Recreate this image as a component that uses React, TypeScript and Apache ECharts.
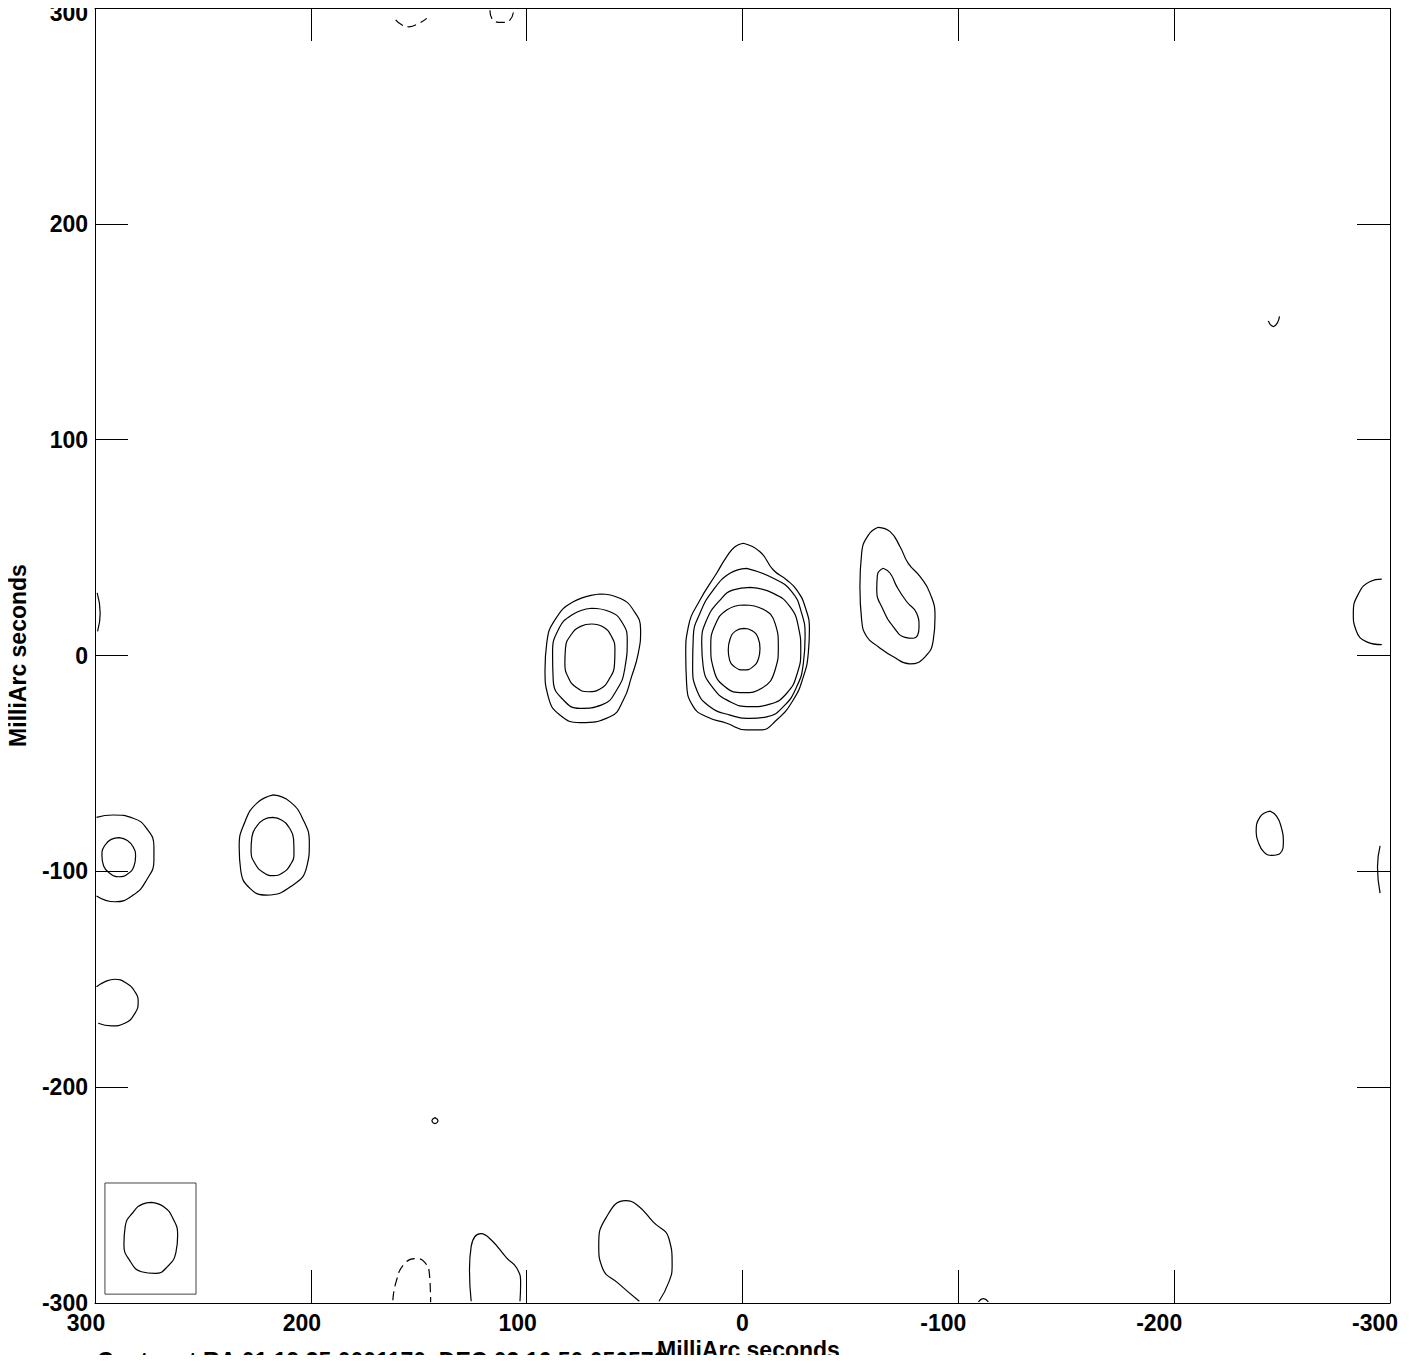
import React, { useEffect, useRef } from "react";
import * as echarts from "echarts";

type Pt = [number, number];

// Axis settings (milliarcseconds)
const axisMin = -300;
const axisMax = 300;
const axisStep = 100;
const axisTitle = "MilliArc seconds";
const footerText = "Center at RA 01 19 35.0001170  DEC 03 16 50.056573";

// Central component (5 nested contours)
const core1: Pt[] = [[-0.7, 12.6], [-4.5, 11.5], [-7.2, 8.2], [-8.1, 3.3], [-7.4, -1.5], [-4.5, -5.5], [-0.7, -6.7], [3.3, -5.5], [6.0, -2.0], [6.6, 2.5], [5.8, 7.5], [3.3, 11.3]];
const core2: Pt[] = [[-0.8, 23.4], [-9.6, 21.4], [-15.1, 14.9], [-16.6, 4.1], [-15.1, -6.7], [-8.9, -15.2], [-0.4, -17.2], [8.1, -14.5], [13.5, -5.9], [14.7, 4.1], [12.7, 14.1], [7.3, 21.1]];
const core3: Pt[] = [[-3.5, 31.6], [-14.3, 28.8], [-22.0, 22.6], [-25.9, 13.3], [-27.0, 2.5], [-25.4, -8.2], [-20.5, -17.5], [-12.7, -22.5], [-3.5, -23.7], [5.8, -21.4], [13.5, -15.2], [18.2, -5.2], [18.9, 5.7], [16.6, 16.5], [10.4, 25.7], [4.3, 30.4]];
const core4: Pt[] = [[-1.9, 40.4], [-14.3, 35.8], [-22.8, 29.6], [-27.4, 19.6], [-29.0, 8.7], [-28.2, -3.6], [-25.1, -14.5], [-18.9, -23.7], [-11.2, -28.4], [-3.5, -29.1], [5.8, -27.6], [15.1, -23.7], [21.2, -16.0], [23.1, -5.2], [22.8, 8.7], [19.7, 19.6], [13.5, 30.4], [5.8, 38.1]];
const core5: Pt[] = [[-0.4, 52.0], [-8.1, 48.1], [-14.3, 39.6], [-20.5, 35.0], [-25.1, 30.4], [-29.0, 22.6], [-31.0, 11.8], [-30.5, 1.2], [-28.2, -9.8], [-23.5, -20.6], [-15.8, -29.9], [-8.1, -34.5], [-1.9, -34.5], [7.3, -31.4], [16.6, -28.4], [22.8, -23.7], [25.9, -12.9], [26.3, 1.0], [25.1, 13.3], [19.7, 25.7], [12.0, 38.1], [7.3, 45.8], [3.5, 50.4]];

// Eastern component (3 contours)
const east1: Pt[] = [[69.9, 14.6], [64.5, 13.2], [60.8, 9.0], [59.1, 3.0], [59.3, -4.0], [61.5, -10.5], [66.0, -15.5], [71.5, -16.8], [77.0, -14.8], [80.8, -10.0], [82.3, -3.5], [82.0, 3.5], [79.5, 9.5], [75.0, 13.5]];
const east2: Pt[] = [[69.9, 21.9], [61.4, 20.3], [56.0, 15.7], [53.4, 7.2], [54.4, -5.2], [58.3, -16.0], [65.2, -22.9], [75.3, -24.5], [83.0, -20.6], [87.7, -11.4], [88.0, 1.0], [85.4, 11.8], [79.1, 18.8]];
const east3: Pt[] = [[66.0, 28.5], [56.8, 26.5], [50.6, 21.1], [47.2, 11.8], [48.3, 1.0], [51.4, -9.8], [55.2, -20.6], [61.4, -28.4], [75.3, -31.1], [84.6, -27.6], [90.0, -19.1], [91.5, -6.7], [90.7, 5.7], [86.9, 16.5], [78.4, 24.9]];

// Western component (2 contours)
const west1: Pt[] = [[-65.2, 40.4], [-68.4, 38.1], [-71.5, 31.9], [-76.1, 24.9], [-80.7, 19.6], [-81.8, 13.3], [-79.1, 8.0], [-75.3, 8.4], [-69.9, 13.3], [-65.2, 21.1], [-62.2, 30.4], [-62.5, 37.3]];
const west2: Pt[] = [[-62.9, 59.4], [-68.4, 57.4], [-73.0, 50.4], [-76.8, 42.7], [-82.3, 36.5], [-86.9, 28.8], [-89.2, 18.0], [-88.4, 7.2], [-84.6, -0.6], [-77.6, -3.9], [-69.9, -0.6], [-62.9, 4.1], [-57.6, 8.7], [-55.2, 16.5], [-54.4, 31.9], [-55.2, 47.4], [-58.3, 55.8]];

// Source near (215, -90)
const src215a: Pt[] = [[217.7, -75.0], [213.6, -76.2], [210.0, -79.8], [208.0, -85.0], [207.8, -91.7], [209.5, -97.0], [213.2, -100.8], [217.4, -102.0], [222.0, -100.5], [225.8, -96.5], [227.7, -90.5], [227.3, -84.0], [225.0, -79.0], [221.8, -76.0]];
const src215b: Pt[] = [[217.4, -64.6], [209.7, -67.7], [203.5, -76.2], [200.7, -87.0], [201.9, -97.9], [208.2, -106.3], [220.5, -111.0], [228.2, -107.9], [232.5, -99.4], [233.2, -88.6], [230.5, -77.0], [225.1, -68.5]];

// Left-edge features
const edgeL95a: Pt[] = [[288.8, -84.4], [285.0, -85.7], [282.3, -88.7], [281.2, -93.0], [282.0, -97.8], [285.0, -101.3], [289.0, -102.5], [293.0, -101.0], [296.0, -97.5], [296.8, -92.5], [295.5, -88.0], [292.5, -85.2]];
const edgeL95b: Pt[] = [[299.3, -75.0], [291.6, -73.9], [282.3, -75.4], [276.1, -80.1], [272.7, -88.6], [272.7, -94.8], [276.1, -104.0], [282.3, -111.0], [290.8, -114.1], [299.3, -111.4]];
const edgeL160: Pt[] = [[299.3, -153.5], [295.5, -151.2], [290.8, -150.0], [285.4, -151.9], [281.5, -155.8], [280.0, -160.4], [281.5, -165.8], [286.2, -170.4], [292.3, -171.6], [298.5, -170.4]];
const edgeL20: Pt[] = [[299.0, 29.0], [297.6, 19.6], [298.8, 11.2]];

// Right-side features
const hookR155: Pt[] = [[-243.6, 155.0], [-246.0, 152.4], [-247.8, 154.1], [-248.8, 157.1]];
const edgeR20: Pt[] = [[-296.2, 35.4], [-290.8, 34.3], [-285.4, 28.6], [-283.0, 19.6], [-284.3, 11.6], [-289.2, 6.3], [-296.2, 5.0]];
const ovalR85: Pt[] = [[-244.4, -72.1], [-247.5, -74.5], [-249.6, -79.5], [-250.6, -85.5], [-249.1, -91.7], [-245.3, -92.6], [-241.5, -91.0], [-238.8, -86.0], [-238.0, -81.9], [-239.8, -74.8]];
const edgeR100: Pt[] = [[-295.4, -88.2], [-294.2, -98.0], [-295.4, -110.1]];

// Top-edge (negative, dashed) features
const topNeg150: Pt[] = [[160.7, 294.5], [157.9, 292.2], [154.6, 291.3], [149.6, 293.1], [146.3, 295.2]];
const topNeg112: Pt[] = [[117.0, 299.0], [115.7, 294.5], [111.5, 293.3], [107.7, 294.5], [106.0, 299.0]];

// Bottom-edge features
const botNeg150: Pt[] = [[162.0, -298.7], [160.5, -290.2], [156.8, -282.0], [151.3, -279.4], [147.2, -281.2], [145.0, -287.2], [144.5, -299.7]];
const bot115: Pt[] = [[125.7, -299.2], [126.5, -284.6], [125.7, -273.8], [121.1, -267.9], [116.5, -270.7], [109.2, -279.2], [104.6, -283.8], [102.8, -290.8], [103.1, -299.2]];
const bot50: Pt[] = [[47.8, -299.2], [57.5, -290.9], [64.8, -284.0], [66.6, -273.2], [63.4, -260.8], [54.2, -252.6], [48.7, -254.7], [41.4, -262.4], [34.1, -270.1], [32.6, -282.5], [34.1, -290.2], [38.7, -299.2]];
const botR110: Pt[] = [[-109.3, -299.5], [-111.6, -298.0], [-113.9, -299.5]];
const dot142: Pt[] = [[142.5, -214.1], [141.1, -215.5], [142.5, -216.9], [143.9, -215.5]];

// Restoring beam and its box
const beamEllipse: Pt[] = [[274.0, -253.4], [268.0, -255.5], [263.8, -261.0], [261.7, -268.5], [262.5, -276.5], [266.3, -283.0], [272.0, -286.3], [278.5, -285.5], [283.8, -280.5], [286.6, -273.0], [286.0, -264.5], [282.0, -257.5], [278.0, -254.2]];
const beamBox: Pt[] = [[295.4, -244.4], [253.2, -244.4], [253.2, -295.9], [295.4, -295.9], [295.4, -244.4]];

const closedContours: Pt[][] = [core1, core2, core3, core4, core5, east1, east2, east3, west1, west2, src215a, src215b, edgeL95a, ovalR85, dot142, beamEllipse];
const openContours: Pt[][] = [edgeL95b, edgeL160, edgeL20, hookR155, edgeR20, edgeR100, bot115, bot50, botR110];
const dashedContours: Pt[][] = [topNeg150, topNeg112, botNeg150];

const FONT = '"Liberation Sans", Arial, Helvetica, sans-serif';
const labelBase = { fontFamily: FONT, fontWeight: "bold" as const, fontSize: 23, color: "#000" };

export default function App() {
  const ref = useRef<HTMLDivElement>(null);

  useEffect(() => {
    if (!ref.current) return;
    const chart = echarts.init(ref.current, undefined, { renderer: "svg" });

    const lineStyle = { color: "#000", width: 1.2 };
    const series: any[] = [];
    closedContours.forEach((pts) => {
      series.push({
        type: "line", data: [...pts, pts[0]], smooth: 0.5, symbol: "none", silent: true,
        lineStyle: { ...lineStyle }, z: 3,
      });
    });
    openContours.forEach((pts) => {
      series.push({
        type: "line", data: pts, smooth: 0.5, symbol: "none", silent: true,
        lineStyle: { ...lineStyle }, z: 3,
      });
    });
    dashedContours.forEach((pts) => {
      series.push({
        type: "line", data: pts, smooth: 0.5, symbol: "none", silent: true,
        lineStyle: { ...lineStyle, type: [9, 5] }, z: 3,
      });
    });
    series.push({
      type: "line", data: beamBox, smooth: false, symbol: "none", silent: true,
      lineStyle: { color: "#444", width: 1 }, z: 3,
    });

    const tickStyle = { show: true, inside: true, length: 33, lineStyle: { color: "#000", width: 1 } };
    const axisLine = { show: true, onZero: false, lineStyle: { color: "#000", width: 1 } };

    const xLabelFmt = (v: number) => {
      const s = String(v);
      return s.length === 1 ? `{a|${s}}` : s.length === 3 ? `{b|${s}}` : `{c|${s}}`;
    };

    chart.setOption({
      animation: false,
      backgroundColor: "#fff",
      grid: { left: 95, top: 8, width: 1295, height: 1295, show: false, containLabel: false, outerBoundsMode: "none" },
      xAxis: [
        {
          type: "value", min: axisMin, max: axisMax, interval: axisStep, inverse: true, position: "bottom",
          axisLine, axisTick: tickStyle, splitLine: { show: false },
          axisLabel: {
            ...labelBase, margin: 8, formatter: xLabelFmt,
            rich: {
              a: { ...labelBase },
              b: { ...labelBase, padding: [0, 18, 0, 0] },
              c: { ...labelBase, padding: [0, 30, 0, 0] },
            },
          },
          name: axisTitle, nameLocation: "middle", nameGap: 30,
          nameTextStyle: { ...labelBase, padding: [0, 0, 0, 12] },
        },
        {
          type: "value", min: axisMin, max: axisMax, interval: axisStep, inverse: true, position: "top",
          axisLine, axisTick: tickStyle, splitLine: { show: false }, axisLabel: { show: false },
        },
      ],
      yAxis: [
        {
          type: "value", min: axisMin, max: axisMax, interval: axisStep, position: "left",
          axisLine, axisTick: tickStyle, splitLine: { show: false },
          axisLabel: {
            ...labelBase, margin: 7,
            formatter: (v: number) => (v === axisMax ? "" : String(v)),
          },
          name: axisTitle, nameLocation: "middle", nameGap: 66, nameRotate: 90,
          nameTextStyle: { ...labelBase },
        },
        {
          type: "value", min: axisMin, max: axisMax, interval: axisStep, position: "right",
          axisLine, axisTick: tickStyle, splitLine: { show: false }, axisLabel: { show: false },
        },
        {
          type: "value", min: axisMin, max: axisMax, interval: axisStep, position: "left",
          axisLine: { show: false }, axisTick: { show: false }, splitLine: { show: false },
          axisLabel: {
            ...labelBase, margin: 7, verticalAlign: "top", padding: [-7, 0, 0, 0],
            formatter: (v: number) => (v === axisMax ? String(v) : ""),
          },
        },
      ],
      graphic: [
        {
          type: "text", left: 97, top: 1349, silent: true,
          style: { text: footerText, fontFamily: FONT, fontWeight: "bold", fontSize: 23, fill: "#000" },
        },
      ],
      series,
    });

    return () => chart.dispose();
  }, []);

  return (
    <div style={{ position: "relative", width: 1400, height: 1347 }}>
      <div ref={ref} style={{ position: "absolute", left: -8, top: -8, width: 1416, height: 1363 }} />
    </div>
  );
}
